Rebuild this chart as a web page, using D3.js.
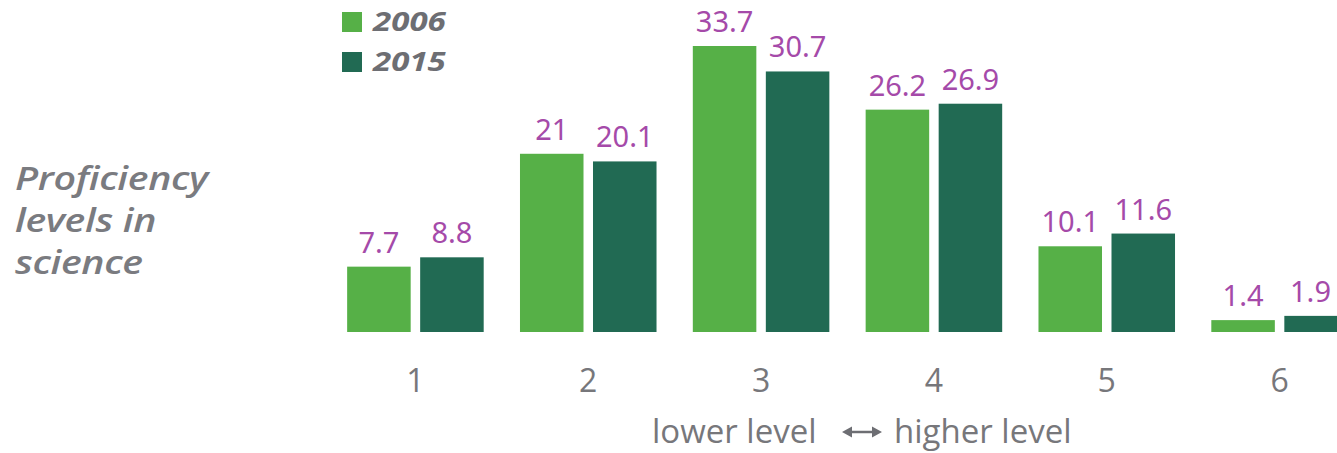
<!DOCTYPE html>
<html><head><meta charset="utf-8">
<script src="https://cdn.jsdelivr.net/npm/d3@7"></script>
<style>body{margin:0;background:#fff;overflow:hidden}svg{display:block}</style>
</head><body>
<svg id="c" width="1337" height="453"></svg>
<script>
const levels = ["1","2","3","4","5","6"];
const years = ["2006","2015"];
const values2006 = [7.7, 21, 33.7, 26.2, 10.1, 1.4];
const values2015 = [8.8, 20.1, 30.7, 26.9, 11.6, 1.9];
const titleLines = ["Proficiency","levels in","science"];
const captionLeft = "lower level";
const captionRight = "higher level";
const colors = ["#56b047","#216a53"];

const W = 1337;
const svg = d3.select("#c");
const baseY = 332;
const y = d3.scaleLinear().domain([0, 33.7]).range([baseY, 46]);
const x = d3.scaleBand().domain(levels).range([329, 1366]).paddingInner(0.21).paddingOuter(0.105);
const xi = d3.scaleBand().domain(years).range([0, x.bandwidth()]).paddingInner(0.13);

const data = levels.map((l,i)=>({level:l, vals:[values2006[i], values2015[i]]}));
const g = svg.append("g");
const groups = g.selectAll("g.grp").data(data).join("g")
  .attr("transform", d=>`translate(${x(d.level)},0)`);
groups.selectAll("rect").data(d=>d.vals.map((v,j)=>({v,y:years[j],j}))).join("rect")
  .attr("x", d=>xi(d.y)).attr("width", xi.bandwidth())
  .attr("y", d=>y(d.v)).attr("height", d=>baseY - y(d.v))
  .attr("fill", d=>colors[d.j]);
groups.selectAll("text").data(d=>d.vals.map((v,j)=>({v,y:years[j],j,level:d.level}))).join("text")
  .attr("x", d=>xi(d.y)+xi.bandwidth()/2).attr("y", d=>y(d.v)-14)
  .attr("text-anchor","middle").attr("fill","#a54aa9")
  .style("font-family","'Noto Sans', sans-serif").style("font-size","29px")
  .text(d=>String(d.v))
  .each(function(d){
    const bb = this.getBBox();
    const right = x(d.level) + bb.x + bb.width;
    if (right > W - 6) d3.select(this).attr("x", +d3.select(this).attr("x") - (right - (W - 6)));
  });

// x axis labels
const axis = d3.axisBottom(x).tickSize(0).tickPadding(0);
const ax = svg.append("g").attr("transform",`translate(0,392)`).call(axis);
ax.select(".domain").remove();
ax.selectAll("text").attr("fill","#77777b").attr("dy","0")
  .style("font-family","'Open Sans', sans-serif").style("font-size","32px");

// bottom caption
const capStyle = s => s.attr("fill","#77777b").style("font-family","'Open Sans', sans-serif").style("font-size","33px");
svg.append("text").attr("x",652).attr("y",443).call(capStyle).text(captionLeft);
svg.append("text").attr("x",894).attr("y",443).call(capStyle).text(captionRight);
// arrow
const ay = 432;
svg.append("line").attr("x1",848).attr("x2",876).attr("y1",ay).attr("y2",ay).attr("stroke","#6d6e73").attr("stroke-width",2.5);
svg.append("path").attr("d",`M842,${ay} l10,-5.5 v11 z M882,${ay} l-10,-5.5 v11 z`).attr("fill","#6d6e73");

// title
const tg = svg.append("g");
const tt = tg.selectAll("text").data(titleLines).join("text")
  .attr("x",0).attr("y",(d,i)=>190+i*42).attr("fill","#7a7b80")
  .style("font-family","'Open Sans', sans-serif").style("font-style","italic").style("font-weight","600")
  .style("font-size","33px").style("letter-spacing","-0.3px").text(d=>d);
const tw = tt.node().getComputedTextLength();
tg.attr("transform",`translate(15,0) scale(${193/tw},1)`);

// legend
const leg = svg.append("g").selectAll("g").data(years).join("g")
  .attr("transform",(d,i)=>`translate(342,${12+i*40})`);
leg.append("rect").attr("width",20).attr("height",20).attr("fill",(d,i)=>colors[i]);
const lt = leg.append("text").attr("x",0).attr("y",19).attr("fill","#6d6e73")
  .style("font-family","'Open Sans', sans-serif").style("font-style","italic").style("font-weight","700")
  .style("font-size","26px").text(d=>d);
const lw = lt.node().getBBox().width;
lt.attr("transform",`translate(31,0) scale(${75/lw},1)`);
</script>
</body></html>
